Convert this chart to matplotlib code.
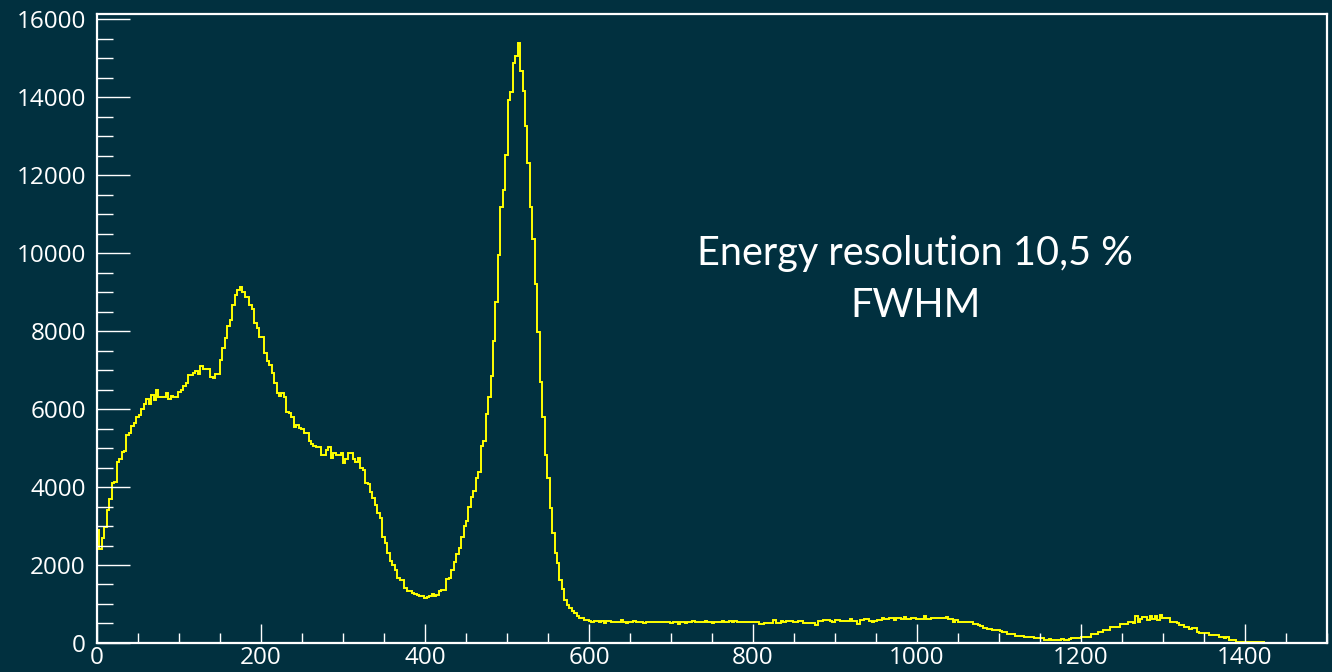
import matplotlib
matplotlib.use('Agg')
import matplotlib.pyplot as plt
import numpy as np
from matplotlib.ticker import MultipleLocator

# spectrum counts, 3-unit bins starting at 0
bin_width = 3

counts_compton = [
    2900, 2420, 2700, 2980, 3400, 3700, 4100, 4120, 4650, 4720,
    4900, 4920, 5330, 5390, 5570, 5630, 5800, 5850, 6010, 6130,
    6260, 6130, 6360, 6230, 6500, 6320, 6300, 6300, 6400, 6270,
    6340, 6320, 6320, 6440, 6490, 6590, 6660, 6870, 6880, 6930,
    6980, 6910, 7100, 7030, 7030, 7020, 6820, 6790, 6900, 6910,
    7260, 7560, 7810, 8140, 8280, 8670, 8920, 9060, 9140, 9000,
    8880, 8880, 8670, 8560, 8200, 8090, 7840, 7840, 7430, 7230,
    7130, 6930, 6660, 6400, 6330, 6420, 6320, 5930, 5890, 5790,
    5550, 5590, 5510, 5480, 5380, 5380, 5190, 5100, 5060, 5030,
    5020, 4820, 4830, 4950, 5030, 4740, 4880, 4820, 4820, 4880,
]

counts_valley_peak = [
    4610, 4730, 4880, 4880, 4730, 4640, 4740, 4480, 4440, 4100,
    4080, 3880, 3710, 3530, 3330, 3200, 2730, 2560, 2300, 2090,
    2000, 1870, 1660, 1620, 1620, 1400, 1340, 1340, 1290, 1260,
    1240, 1210, 1210, 1150, 1190, 1210, 1260, 1210, 1230, 1340,
    1360, 1370, 1640, 1660, 1870, 2080, 2290, 2430, 2730, 3000,
    3140, 3500, 3750, 3910, 4220, 4390, 5050, 5190, 5870, 6320,
    6850, 7750, 8750, 9950, 11190, 11620, 12510, 13920, 14120, 14880,
    15060, 15380, 14670, 14150, 13260, 12300, 11170, 10360, 9220, 7980,
    6700, 5790, 4820, 4220, 3450, 2810, 2320, 2040, 1620, 1380,
    1100, 970, 890, 830, 760, 680, 630, 630, 590, 590,
]

counts_flat = [
    560, 550, 560, 556, 550, 556, 513, 573, 573, 538,
    540, 538, 535, 598, 530, 525, 530, 530, 556, 550,
    530, 530, 525, 530, 530, 538, 540, 535, 538, 540,
    538, 530, 530, 525, 530, 530, 487, 530, 530, 525,
    530, 530, 556, 550, 530, 530, 530, 556, 530, 530,
    525, 530, 530, 535, 573, 538, 538, 556, 550, 556,
    530, 530, 538, 538, 535, 540, 538, 530, 530, 487,
    490, 513, 513, 510, 515, 580, 513, 513, 556, 550,
    560, 573, 570, 538, 540, 573, 575, 513, 513, 510,
    515, 513, 453, 560, 573, 580, 598, 595, 556, 550,
    598, 600, 573, 570, 575, 573, 615, 573, 575, 487,
    598, 600, 615, 610, 556, 550, 556, 598, 600, 650,
    615, 620, 632, 630, 598, 650, 645, 615, 667, 615,
    620, 650, 645, 615, 620, 610, 684, 615, 610, 650,
    645, 640, 632, 630, 635, 667, 615, 610, 547, 598,
    547, 547, 550, 545, 547, 550, 496, 496, 470, 430,
    385, 385, 359, 359, 342, 342, 320, 310,
]

counts_tail = [
    290, 290, 231, 231, 231, 180, 179, 175, 180, 145,
    145, 150, 145, 120, 120, 125, 120, 85, 85, 90,
    85, 85, 80, 85, 90, 85, 85, 90, 120, 120,
    125, 120, 162, 160, 165, 162, 222, 225, 222, 273,
    275, 333, 330, 335, 419, 420, 415, 420, 479, 480,
    475, 547, 547, 505, 692, 547, 607, 675, 675, 590,
    692, 607, 692, 590, 709, 632, 632, 632, 547, 547,
    550, 520, 462, 460, 420, 420, 350, 390, 390, 290,
    248, 248, 250, 248, 205, 205, 205, 205, 145, 145,
    140, 145, 77, 77, 77, 34, 34, 34, 30, 17,
    17, 17, 17, 17, 17, 17, 17,
]

label_line1 = 'Energy resolution 10,5 %'
label_line2 = 'FWHM'

counts = np.array(counts_compton + counts_valley_peak + counts_flat + counts_tail)
edges = np.arange(len(counts) + 1) * bin_width

bg = '#01303f'
fig = plt.figure(figsize=(13.32, 6.72), dpi=100, facecolor=bg)
ax = fig.add_axes([0.0728, 0.0432, 0.9234, 0.9358], facecolor=bg)

ax.stairs(counts, edges, baseline=None, color='#ffff00', linewidth=1.4)

ax.set_xlim(0, 1500)
ax.set_ylim(0, 16130)

for side in ax.spines.values():
    side.set_color('white')
    side.set_linewidth(1.6)

ax.xaxis.set_major_locator(MultipleLocator(200))
ax.xaxis.set_minor_locator(MultipleLocator(50))
ax.yaxis.set_major_locator(MultipleLocator(2000))
ax.yaxis.set_minor_locator(MultipleLocator(500))

ax.tick_params(axis='both', which='both', direction='in', colors='white', width=1.0)
ax.tick_params(axis='y', which='major', length=24, pad=8)
ax.tick_params(axis='y', which='minor', length=11.5)
ax.tick_params(axis='x', which='major', length=13.5, pad=2)
ax.tick_params(axis='x', which='minor', length=7)

for lab in ax.get_xticklabels() + ax.get_yticklabels():
    lab.set_fontfamily('Open Sans')
    lab.set_fontsize(17.5)
    lab.set_color('white')

fig.text(0.687, 0.6057, label_line1, color='white', fontsize=28.5,
         family='Lato', ha='center', va='baseline')
fig.text(0.687, 0.5283, label_line2, color='white', fontsize=28.5,
         family='Lato', ha='center', va='baseline')

plt.savefig('out.png', dpi=100, facecolor=bg)
